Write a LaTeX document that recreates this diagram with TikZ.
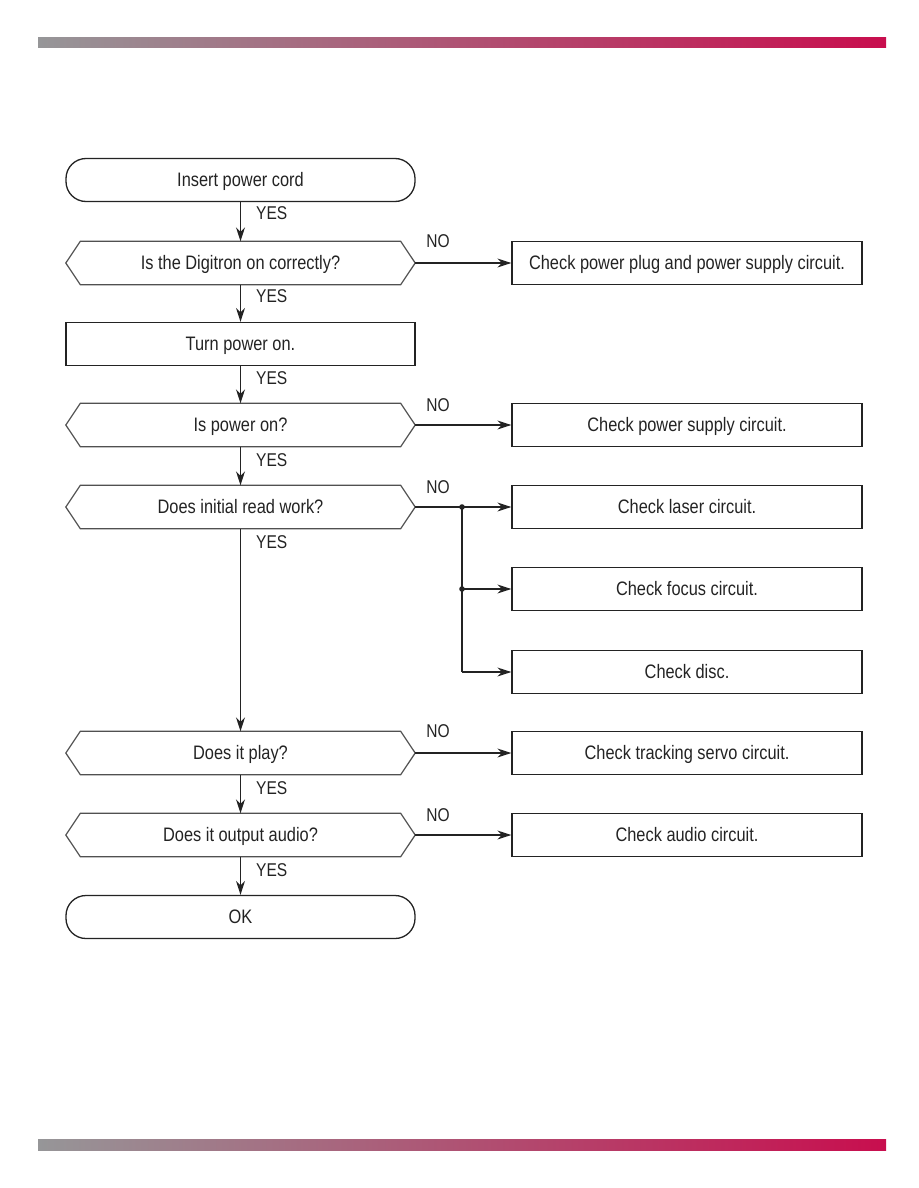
\documentclass[tikz,border=0pt]{standalone}
\usepackage{fontspec}
\setmainfont{Liberation Sans}[FakeStretch=0.84]
\usetikzlibrary{arrows.meta,calc}
\definecolor{barL}{RGB}{150,150,152}
\definecolor{barR}{RGB}{200,14,78}
\definecolor{ink}{RGB}{35,35,35}
\definecolor{hexink}{RGB}{80,80,80}
\tikzset{
  every node/.style={font=\fontsize{19.5}{22}\selectfont, text=ink},
  box/.style={draw=ink, line width=1.3pt, minimum width=350pt, minimum height=43pt, inner sep=0pt, text height=14pt, text depth=2pt},
  termbox/.style={box, rounded corners=20pt, minimum width=349pt},
  hexcore/.style={minimum width=320pt, minimum height=43pt, inner sep=0pt, text height=14pt, text depth=2pt},
  conn/.style={draw=ink, line width=1.3pt},
  arr/.style={conn, -{Stealth[length=14pt,width=9pt]}},
  lab/.style={font=\fontsize{18.5}{20}\selectfont, inner sep=0pt},
}
\begin{document}
\begin{tikzpicture}[x=1pt,y=-1pt]
\useasboundingbox (0,0) rectangle (918,1188);
% bars
\shade[left color=barL, right color=barR] (38,38) rectangle (886,48);
\shade[left color=barL, right color=barR] (38,1139) rectangle (886,1150);
% left column
\node[termbox] (start) at (240.5,180) {Insert power cord};
\node[hexcore] (h1) at (240.5,263) {Is the Digitron on correctly?};
\node[box, minimum width=349pt] (turn) at (240.5,344) {Turn power on.};
\node[hexcore] (h2) at (240.5,425) {Is power on?};
\node[hexcore] (h3) at (240.5,507) {Does initial read work?};
\node[hexcore] (h4) at (240.5,753) {Does it play?};
\node[hexcore] (h5) at (240.5,835) {Does it output audio?};
\node[termbox] (ok) at (240.5,917) {OK};
% hexagon tips
\coordinate (t1) at ([xshift=14.5pt]h1.east);
\coordinate (t2) at ([xshift=14.5pt]h2.east);
\coordinate (t3) at ([xshift=14.5pt]h3.east);
\coordinate (t4) at ([xshift=14.5pt]h4.east);
\coordinate (t5) at ([xshift=14.5pt]h5.east);
% hexagon outlines
\foreach \n in {h1,h2,h3,h4,h5}{
  \draw[draw=hexink, line width=1.2pt, line join=miter] (\n.north west) -- (\n.north east) -- ([xshift=14.5pt]\n.east)
    -- (\n.south east) -- (\n.south west) -- ([xshift=-14.5pt]\n.west) -- cycle;
}
% right column
\node[box] (r1) at (687,263) {Check power plug and power supply circuit.};
\node[box] (r2) at (687,425) {Check power supply circuit.};
\node[box] (r3) at (687,507) {Check laser circuit.};
\node[box] (r4) at (687,589) {Check focus circuit.};
\node[box] (r5) at (687,672) {Check disc.};
\node[box] (r6) at (687,753) {Check tracking servo circuit.};
\node[box] (r7) at (687,835) {Check audio circuit.};
% vertical flow
\draw[arr] (start.south) -- (h1.north);
\draw[arr] (h1.south) -- (turn.north);
\draw[arr] (turn.south) -- (h2.north);
\draw[arr] (h2.south) -- (h3.north);
\draw[arr] (h3.south) -- (h4.north);
\draw[arr] (h4.south) -- (h5.north);
\draw[arr] (h5.south) -- (ok.north);
% YES labels
\foreach \y in {213,296,378,460,542,788,870}{
  \node[lab, anchor=west] at (256,\y) {YES};
}
% NO branches
\draw[arr] (t1) -- (r1.west);
\draw[arr] (t2) -- (r2.west);
\draw[arr] (t3) -- (r3.west);
\coordinate (j1) at (462,507);
\coordinate (j2) at (462,589);
\coordinate (j3) at (462,672);
\draw[conn] (j1) -- (j3);
\draw[arr] (j2) -- (r4.west);
\draw[arr] (j3) -- (r5.west);
\fill[ink] (j1) circle (2.8pt);
\fill[ink] (j2) circle (2.8pt);
\draw[arr] (t4) -- (r6.west);
\draw[arr] (t5) -- (r7.west);
\foreach \y in {241,405,487,731,815}{
  \node[lab] at (438,\y) {NO};
}
\end{tikzpicture}
\end{document}
